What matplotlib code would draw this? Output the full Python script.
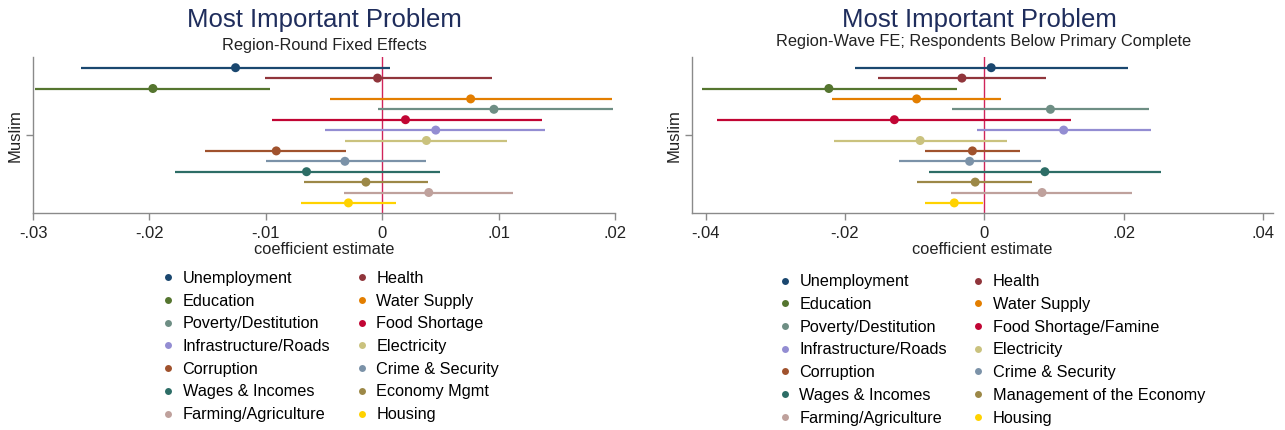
import numpy as np
import matplotlib
matplotlib.use("Agg")
import matplotlib.pyplot as plt
from matplotlib.lines import Line2D

plt.rcParams['font.family'] = ['Liberation Sans', 'DejaVu Sans']

# problem categories, same order in both panels (top to bottom)
problems = ["Unemployment", "Health", "Education", "Water Supply",
            "Poverty/Destitution", "Food Shortage", "Infrastructure/Roads",
            "Electricity", "Corruption", "Crime & Security", "Wages & Incomes",
            "Economy Mgmt", "Farming/Agriculture", "Housing"]
problems_right = ["Unemployment", "Health", "Education", "Water Supply",
                  "Poverty/Destitution", "Food Shortage/Famine", "Infrastructure/Roads",
                  "Electricity", "Corruption", "Crime & Security", "Wages & Incomes",
                  "Management of the Economy", "Farming/Agriculture", "Housing"]

colors = ["#1a476f", "#90353b", "#55752f", "#e37e00", "#6e8e84", "#c10534",
          "#938dd2", "#cac27e", "#a0522d", "#7b92a8", "#2d6d66", "#9c8847",
          "#bfa19c", "#ffd200"]

# left panel: region-round fixed effects
coef_left = [-0.0126, -0.0004, -0.0197, 0.0076, 0.0096, 0.0020, 0.0046,
             0.0038, -0.0091, -0.0032, -0.0065, -0.0014, 0.0040, -0.0029]
lo_left = [-0.0259, -0.0101, -0.0298, -0.0045, -0.0004, -0.0095, -0.0049,
           -0.0032, -0.0152, -0.0100, -0.0178, -0.0067, -0.0033, -0.0070]
hi_left = [0.0007, 0.0094, -0.0096, 0.0197, 0.0198, 0.0137, 0.0140,
           0.0107, -0.0031, 0.0038, 0.0050, 0.0039, 0.0112, 0.0012]

# right panel: region-wave FE, respondents below primary complete
coef_right = [0.0010, -0.0032, -0.0223, -0.0097, 0.0095, -0.0129, 0.0114,
              -0.0092, -0.0017, -0.0021, 0.0087, -0.0013, 0.0083, -0.0043]
lo_right = [-0.0186, -0.0152, -0.0405, -0.0218, -0.0046, -0.0383, -0.0011,
            -0.0215, -0.0085, -0.0122, -0.0079, -0.0096, -0.0048, -0.0085]
hi_right = [0.0206, 0.0088, -0.0039, 0.0024, 0.0237, 0.0124, 0.0239,
            0.0032, 0.0052, 0.0081, 0.0253, 0.0069, 0.0212, -0.0002]

xticks_left = [-0.03, -0.02, -0.01, 0, 0.01, 0.02]
xticklabels_left = ["-.03", "-.02", "-.01", "0", ".01", ".02"]
xticks_right = [-0.04, -0.02, 0, 0.02, 0.04]
xticklabels_right = ["-.04", "-.02", "0", ".02", ".04"]

W, H = 1285, 430
fig = plt.figure(figsize=(W / 100, H / 100), dpi=100)
fig.patch.set_facecolor("white")

axis_grey = "#8a8a8a"
title_col = "#1f2d5c"


def draw_panel(ax, coef, lo, hi, labels, xlim, xticks, xticklabels):
    rows = np.arange(1, len(coef) + 1)
    for r, c, l, h, col in zip(rows, coef, lo, hi, colors):
        ax.plot([l, h], [r, r], color=col, lw=1.6, solid_capstyle="butt", zorder=2)
    ax.axvline(0, color="#d0245a", lw=1.0, zorder=1)
    ax.scatter(coef, rows, c=colors, s=42, zorder=3, edgecolors="none")

    ax.set_xlim(*xlim)
    ax.set_ylim(15, 0)
    ax.set_xticks(xticks)
    ax.set_xticklabels(xticklabels, fontsize=12, color="#222222")
    ax.set_yticks([7.5])
    ax.set_yticklabels(["Muslim"], rotation=90, va="center", fontsize=12,
                       color="#222222")
    ax.tick_params(axis="both", direction="out", length=5, width=1,
                   color=axis_grey, pad=4)
    ax.tick_params(axis="y", pad=2.5)
    for s in ["top", "right"]:
        ax.spines[s].set_visible(False)
    for s in ["left", "bottom"]:
        ax.spines[s].set_color(axis_grey)
        ax.spines[s].set_linewidth(1.0)
    ax.set_xlabel("coefficient estimate", fontsize=11.8, color="#222222",
                  labelpad=1)

    # legend, filled row by row like the original
    handles = [Line2D([], [], marker="o", ls="none", color=col, markersize=5,
                      markeredgewidth=0) for col in colors]
    order = list(range(0, 14, 2)) + list(range(1, 14, 2))
    return [handles[i] for i in order], [labels[i] for i in order]


ax1 = fig.add_axes([33 / W, 1 - 213.3 / H, (615 - 33) / W, 156 / H])
ax2 = fig.add_axes([692.3 / W, 1 - 213.3 / H, (1272.7 - 692.3) / W, 156 / H])

h1, l1 = draw_panel(ax1, coef_left, lo_left, hi_left, problems,
                    (-0.03, 0.02), xticks_left, xticklabels_left)
h2, l2 = draw_panel(ax2, coef_right, lo_right, hi_right, problems_right,
                    (-0.0419, 0.0414), xticks_right, xticklabels_right)

# titles
fig.text(324 / W, 1 - 27 / H, "Most Important Problem", ha="center",
         va="baseline", fontsize=18.5, color=title_col)
fig.text(324 / W, 1 - 50 / H, "Region-Round Fixed Effects", ha="center",
         va="baseline", fontsize=11.8, color="#222222")
fig.text(979 / W, 1 - 27 / H, "Most Important Problem", ha="center",
         va="baseline", fontsize=18.5, color=title_col)
fig.text(984 / W, 1 - 46 / H, "Region-Wave FE; Respondents Below Primary Complete",
         ha="center", va="baseline", fontsize=11.8, color="#222222")

leg_kw = dict(loc="upper left", ncol=2, frameon=False, fontsize=11.7,
              handlelength=0.6, handletextpad=0.6, columnspacing=1.63,
              labelspacing=0.476, borderpad=0, borderaxespad=0,
              bbox_transform=fig.transFigure)
fig.legend(h1, l1, bbox_to_anchor=(163.1 / W, 1 - 270.8 / H), **leg_kw)
fig.legend(h2, l2, bbox_to_anchor=(780 / W, 1 - 274.2 / H), **leg_kw)

fig.savefig("out.png", dpi=100, facecolor="white")
